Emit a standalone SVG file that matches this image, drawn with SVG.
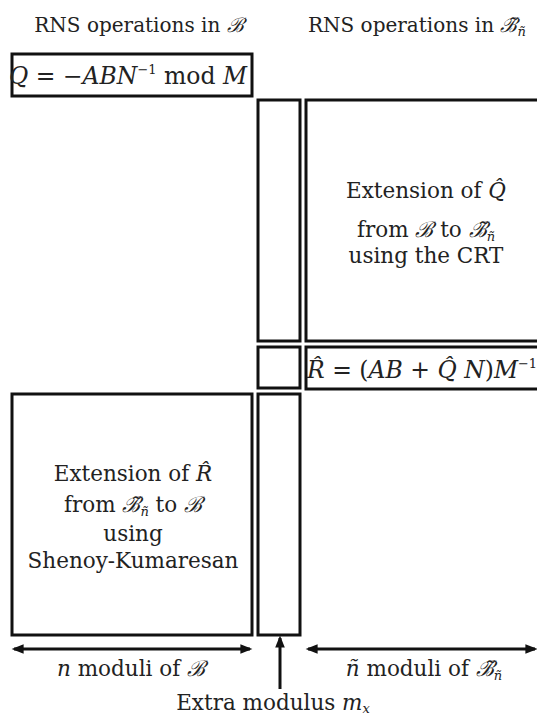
<svg xmlns="http://www.w3.org/2000/svg" width="537" height="715" viewBox="0 0 537 715">
<style>
text{font-family:"DejaVu Serif","Liberation Serif",serif;font-size:21.5px;fill:#222}
.t{font-size:20px}
.eq{font-size:23.5px}
.m{font-style:italic}
.sub{font-size:13px}
.box{fill:none;stroke:#111;stroke-width:3}
.conn{stroke:#111;stroke-width:3;fill:none}
</style>
<defs>
<marker id="ah" viewBox="0 0 10 10" refX="8" refY="5" markerWidth="5" markerHeight="4" orient="auto-start-reverse" markerUnits="strokeWidth">
<path d="M0,1 L10,5 L0,9 z" fill="#111"/>
</marker>
</defs>
<rect width="537" height="715" fill="#fff"/>
<g id="title-b"><text class="t" x="139" y="32" text-anchor="middle">RNS operations in <tspan class="m">ℬ</tspan></text></g>
<g id="title-bt"><text class="t" x="308" y="32">RNS operations in <tspan class="m">ℬ̃</tspan><tspan class="m sub" dy="4">ñ</tspan></text></g>
<g id="q-box">
<rect class="box" x="12" y="54" width="240" height="42"/>
<text class="eq" x="9" y="84"><tspan class="m">Q</tspan> = −<tspan class="m">ABN</tspan><tspan class="sub" dy="-10">−1</tspan><tspan dy="10"> mod </tspan><tspan class="m">M</tspan></text>
</g>
<g id="extra-col-top"><rect class="box" x="258" y="100" width="42" height="241"/></g>
<g id="crt-box">
<rect class="box" x="306" y="100" width="240" height="241"/>
<text x="426" y="198" text-anchor="middle">Extension of <tspan class="m">Q̂</tspan></text>
<text x="426" y="237" text-anchor="middle">from <tspan class="m">ℬ</tspan> to <tspan class="m">ℬ̃</tspan><tspan class="m sub" dy="4">ñ</tspan></text>
<text x="426" y="263" text-anchor="middle">using the CRT</text>
</g>
<g id="extra-col-mid"><rect class="box" x="258" y="347" width="42" height="41"/></g>
<g id="r-box">
<rect class="box" x="306" y="347" width="240" height="42"/>
<text class="eq" x="307" y="378"><tspan class="m">R̂</tspan> = (<tspan class="m">AB</tspan> + <tspan class="m">Q̂</tspan> <tspan class="m">N</tspan>)<tspan class="m">M</tspan><tspan class="sub" dy="-10">−1</tspan></text>
</g>
<g id="sk-box">
<rect class="box" x="12" y="394" width="240" height="241"/>
<text x="133" y="481" text-anchor="middle">Extension of <tspan class="m">R̂</tspan></text>
<text x="133" y="512" text-anchor="middle">from <tspan class="m">ℬ̃</tspan><tspan class="m sub" dy="4">ñ</tspan><tspan dy="-4"> to </tspan><tspan class="m">ℬ</tspan></text>
<text x="133" y="541" text-anchor="middle">using</text>
<text x="133" y="568" text-anchor="middle">Shenoy-Kumaresan</text>
</g>
<g id="extra-col-bot"><rect class="box" x="258" y="394" width="42" height="241"/></g>
<g id="connectors">
<line class="conn" x1="14" y1="649" x2="250" y2="649" marker-start="url(#ah)" marker-end="url(#ah)"/>
<line class="conn" x1="308" y1="649" x2="535" y2="649" marker-start="url(#ah)" marker-end="url(#ah)"/>
<line class="conn" x1="280" y1="689" x2="280" y2="638" marker-end="url(#ah)"/>
</g>
<g id="labels">
<text x="131" y="676" text-anchor="middle"><tspan class="m">n</tspan> moduli of <tspan class="m">ℬ</tspan></text>
<text x="424" y="676" text-anchor="middle"><tspan class="m">ñ</tspan> moduli of <tspan class="m">ℬ̃</tspan><tspan class="m sub" dy="4">ñ</tspan></text>
<text x="273" y="710" text-anchor="middle">Extra modulus <tspan class="m">m</tspan><tspan class="m sub" dy="3">x</tspan></text>
</g>
</svg>
